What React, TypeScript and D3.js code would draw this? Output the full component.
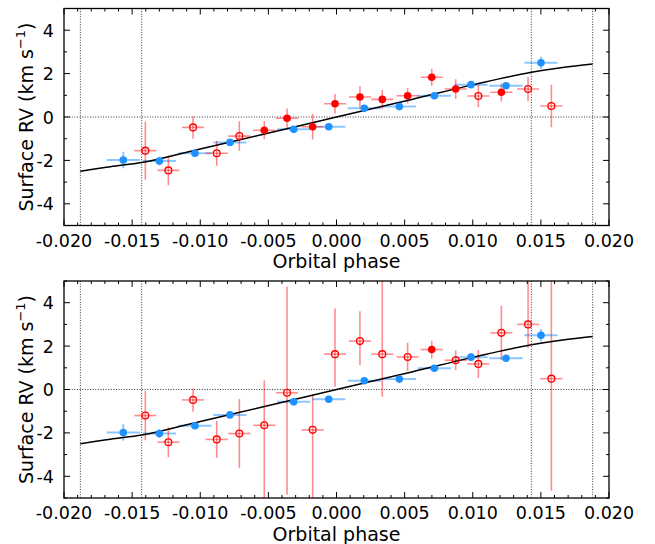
import React from 'react';
import * as d3 from 'd3';

// ---- data ----
const blueX = [-0.01565, -0.0130, -0.01039, -0.00782, -0.00314, -0.00057, 0.00204, 0.00461, 0.00718, 0.00987, 0.01244, 0.01501];
const blueY = [-1.98, -2.03, -1.67, -1.17, -0.57, -0.45, 0.40, 0.48, 0.98, 1.49, 1.44, 2.50];
const blueYErr = [0.38, 0.2, 0.15, 0.15, 0.1, 0.08, 0.1, 0.1, 0.12, 0.12, 0.12, 0.28];
const blueXErr = [0.00122, 0.00122, 0.00122, 0.00122, 0.00122, 0.00122, 0.00122, 0.00122, 0.00122, 0.00122, 0.00122, 0.00122];

const redX = [-0.01403, -0.01234, -0.01053, -0.00879, -0.00713, -0.0053, -0.00363, -0.00175, -0.00011, 0.00172, 0.00336, 0.00522, 0.00699, 0.00875, 0.01041, 0.0121, 0.01406, 0.01577];
const redXErr = [0.00081, 0.00081, 0.00081, 0.00081, 0.00081, 0.00081, 0.00081, 0.00081, 0.00081, 0.00081, 0.00081, 0.00081, 0.00081, 0.00081, 0.00081, 0.00081, 0.00081, 0.00081];

const redTopY = [-1.55, -2.46, -0.48, -1.67, -0.88, -0.61, -0.06, -0.45, 0.61, 0.92, 0.81, 0.98, 1.83, 1.29, 0.97, 1.14, 1.29, 0.51];
const redTopErrLo = [1.34, 0.69, 0.52, 0.58, 0.68, 0.42, 0.45, 0.59, 0.45, 0.5, 0.44, 0.36, 0.39, 0.45, 0.51, 0.42, 0.55, 0.98];
const redTopErrHi = [1.34, 0.69, 0.52, 0.58, 0.68, 0.42, 0.45, 0.59, 0.45, 0.5, 0.44, 0.36, 0.39, 0.45, 0.51, 0.42, 0.55, 0.98];
const redTopFilled = [0, 0, 0, 0, 0, 1, 1, 1, 1, 1, 1, 1, 1, 1, 0, 1, 0, 0];

const redBotY = [-1.20, -2.43, -0.48, -2.30, -2.03, -1.65, -0.15, -1.86, 1.63, 2.23, 1.63, 1.50, 1.84, 1.35, 1.18, 2.61, 3.0, 0.50];
const redBotErrLo = [1.14, 0.69, 0.54, 0.85, 1.59, 4.0, 4.7, 4.0, 1.5, 1.1, 1.97, 0.65, 0.41, 0.45, 0.65, 1.26, 1.1, 5.16];
const redBotErrHi = [1.14, 0.69, 0.54, 0.85, 1.59, 2.07, 4.9, 1.64, 2.1, 1.38, 4.0, 0.65, 0.41, 0.45, 0.65, 1.24, 3.0, 5.0];
const redBotFilled = [0, 0, 0, 0, 0, 0, 0, 0, 0, 0, 0, 0, 1, 0, 0, 0, 0, 0];

const modelX = [-0.0188, -0.0166, -0.0143, -0.0100, -0.0056, 0, 0.0056, 0.0100, 0.0143, 0.0166, 0.0188];
const modelY = [-2.50, -2.29, -2.10, -1.47, -0.83, 0, 0.82, 1.48, 2.06, 2.28, 2.44];

const contactPhases = [-0.0188, -0.0143, 0.0143, 0.0188];

const xTicks = [-0.02, -0.015, -0.01, -0.005, 0, 0.005, 0.01, 0.015, 0.02];
const xTickLabels = ['-0.020', '-0.015', '-0.010', '-0.005', '0.000', '0.005', '0.010', '0.015', '0.020'];
const yTicks = [-4, -2, 0, 2, 4];
const yTickLabels = ['-4', '-2', '0', '2', '4'];

const FONT = 'DejaVu Sans, sans-serif';
const BLUE = '#1e90ff';
const RED = '#ff0000';

type PanelProps = {
  top: number;
  redY: number[];
  redLo: number[];
  redHi: number[];
  redFilled: number[];
  id: string;
};

const left = 64;
const right = 609;
const ph = 217;

function Panel({ top, redY, redLo, redHi, redFilled, id }: PanelProps) {
  const x = d3.scaleLinear().domain([-0.02, 0.02]).range([left, right]);
  const y = d3.scaleLinear().domain([-5, 5]).range([top + ph, top]);
  const line = d3
    .line<number>()
    .x((_, i) => x(modelX[i]))
    .y((d) => y(d))
    .curve(d3.curveMonotoneX);
  const minorX = d3.range(-20, 21).map((v) => v / 1000).filter((v) => Math.abs(Math.round(v * 1000) % 5) !== 0);
  const minorY = [-5, -3, -1, 1, 3, 5];
  const clip = `clip-${id}`;
  return (
    <g>
      <defs>
        <clipPath id={clip}>
          <rect x={left} y={top} width={right - left} height={ph} />
        </clipPath>
      </defs>
      <line x1={left} x2={right} y1={y(0)} y2={y(0)} stroke="#000" strokeWidth={0.8} strokeDasharray="1,1.6" />
      {contactPhases.map((c, i) => (
        <line key={i} x1={x(c)} x2={x(c)} y1={top} y2={top + ph} stroke="#000" strokeWidth={0.8} strokeDasharray="1,1.6" />
      ))}
      <g clipPath={`url(#${clip})`}>
        {blueX.map((bx, i) => (
          <g key={'be' + i} stroke={BLUE} strokeOpacity={0.5} strokeWidth={2}>
            <line x1={x(bx - blueXErr[i])} x2={x(bx + blueXErr[i])} y1={y(blueY[i])} y2={y(blueY[i])} />
            <line x1={x(bx)} x2={x(bx)} y1={y(blueY[i] - blueYErr[i])} y2={y(blueY[i] + blueYErr[i])} />
          </g>
        ))}
        {redX.map((rx, i) => (
          <g key={'re' + i} stroke={RED} strokeOpacity={0.45} strokeWidth={1.6}>
            <line x1={x(rx - redXErr[i])} x2={x(rx + redXErr[i])} y1={y(redY[i])} y2={y(redY[i])} />
            <line x1={x(rx)} x2={x(rx)} y1={y(redY[i] - redLo[i])} y2={y(redY[i] + redHi[i])} />
          </g>
        ))}
        <path d={line(modelY) || ''} fill="none" stroke="#000" strokeWidth={1.5} />
        {blueX.map((bx, i) => (
          <circle key={'b' + i} cx={x(bx)} cy={y(blueY[i])} r={3.8} fill={BLUE} />
        ))}
        {redX.map((rx, i) =>
          redFilled[i] ? (
            <circle key={'r' + i} cx={x(rx)} cy={y(redY[i])} r={3.8} fill={RED} />
          ) : (
            <circle key={'r' + i} cx={x(rx)} cy={y(redY[i])} r={3.4} fill="none" stroke={RED} strokeWidth={1.3} />
          )
        )}
      </g>
      <g stroke="#000" strokeWidth={1}>
        {xTicks.map((t, i) => (
          <g key={'xt' + i}>
            <line x1={x(t)} x2={x(t)} y1={top + ph} y2={top + ph - 6} />
            <line x1={x(t)} x2={x(t)} y1={top} y2={top + 6} />
          </g>
        ))}
        {minorX.map((t, i) => (
          <g key={'xm' + i}>
            <line x1={x(t)} x2={x(t)} y1={top + ph} y2={top + ph - 3} />
            <line x1={x(t)} x2={x(t)} y1={top} y2={top + 3} />
          </g>
        ))}
        {yTicks.map((t, i) => (
          <g key={'yt' + i}>
            <line x1={left} x2={left + 6} y1={y(t)} y2={y(t)} />
            <line x1={right} x2={right - 6} y1={y(t)} y2={y(t)} />
          </g>
        ))}
        {minorY.map((t, i) => (
          <g key={'ym' + i}>
            <line x1={left} x2={left + 3} y1={y(t)} y2={y(t)} />
            <line x1={right} x2={right - 3} y1={y(t)} y2={y(t)} />
          </g>
        ))}
      </g>
      <rect x={left} y={top} width={right - left} height={ph} fill="none" stroke="#000" strokeWidth={1.3} />
      <g fontFamily={FONT} fill="#000">
        {xTicks.map((t, i) => (
          <text key={'xl' + i} x={x(t)} y={top + ph + 21} textAnchor="middle" fontSize={17.5}>
            {xTickLabels[i]}
          </text>
        ))}
        {yTicks.map((t, i) => (
          <text key={'yl' + i} x={left - 10} y={y(t) + 6.5} textAnchor="end" fontSize={17.5}>
            {yTickLabels[i]}
          </text>
        ))}
        <text x={(left + right) / 2} y={top + ph + 42.5} textAnchor="middle" fontSize={19}>
          Orbital phase
        </text>
        <text transform={`translate(33,${top + ph / 2}) rotate(-90)`} textAnchor="middle" fontSize={19}>
          Surface RV (km s<tspan fontSize={13} dy={-8}>−1</tspan>
          <tspan dy={8}>)</tspan>
        </text>
      </g>
    </g>
  );
}

export default function App() {
  return (
    <svg width={655} height={544} style={{ position: 'absolute', left: 0, top: 0, background: '#fff' }}>
      <rect x={0} y={0} width={655} height={544} fill="#fff" />
      <Panel top={8.5} redY={redTopY} redLo={redTopErrLo} redHi={redTopErrHi} redFilled={redTopFilled} id="top" />
      <Panel top={281} redY={redBotY} redLo={redBotErrLo} redHi={redBotErrHi} redFilled={redBotFilled} id="bot" />
    </svg>
  );
}
